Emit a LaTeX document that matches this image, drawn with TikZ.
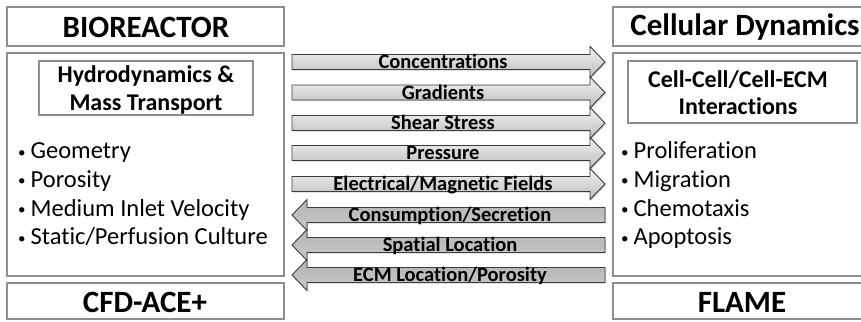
\documentclass[tikz,border=0pt]{standalone}
\usepackage{fontspec}
\setmainfont{Carlito}[Ligatures={NoCommon,NoRare}]
\usetikzlibrary{shadows}
\definecolor{boxgray}{HTML}{8E8E8E}
\definecolor{arrline}{HTML}{3C3C3C}
\definecolor{rtop}{HTML}{F2F2F2}
\definecolor{rbot}{HTML}{BDBDBD}
\definecolor{ltop}{HTML}{B4B4B4}
\definecolor{lbot}{HTML}{C8C8C8}
\newcommand{\smallbul}{\raisebox{1.5pt}{\fontsize{15}{15}\selectfont\textbullet}\kern5pt}
\tikzset{
  outerbox/.style={draw=boxgray, line width=2pt, fill=white},
  innerbox/.style={draw=boxgray, line width=2pt, fill=white},
  titletext/.style={font=\fontsize{31}{36}\selectfont\bfseries, inner sep=0pt},
  subtext/.style={font=\fontsize{24}{28}\selectfont\bfseries, inner sep=0pt, anchor=base},
  bullettext/.style={font=\fontsize{24.5}{28}\selectfont, inner sep=0pt, anchor=base west},
  rarrow/.style={draw=arrline, line width=0.9pt, top color=rtop, bottom color=rbot, line join=miter,
     drop shadow={shadow xshift=1.2pt, shadow yshift=-1.2pt, opacity=0.35}},
  larrow/.style={draw=arrline, line width=0.9pt, top color=ltop, bottom color=lbot, line join=miter,
     drop shadow={shadow xshift=1.2pt, shadow yshift=-1.2pt, opacity=0.35}},
  arrtext/.style={font=\fontsize{20.5}{24}\selectfont\bfseries, inner sep=0pt, anchor=base}
}
\newcommand{\rarr}[3]{% name, center y, label
  \draw[rarrow] (292,#2-7.5) -- (590,#2-7.5) -- (590,#2-15.5) -- (605,#2) -- (590,#2+15.5) -- (590,#2+7.5) -- (292,#2+7.5) -- cycle;
  \node[arrtext] (#1) at (443,#2+6.5) {#3};
}
\newcommand{\larr}[3]{%
  \draw[larrow] (605,#2-7.5) -- (307,#2-7.5) -- (307,#2-15.5) -- (292,#2) -- (307,#2+15.5) -- (307,#2+7.5) -- (605,#2+7.5) -- cycle;
  \node[arrtext] (#1) at (450,#2+6.5) {#3};
}
\begin{document}
\begin{tikzpicture}[x=1pt,y=-1pt]
\useasboundingbox (0,0) rectangle (861,321);
\clip (0,0) rectangle (861,321);
\fill[white] (0,0) rectangle (861,321);
% left column
\draw[outerbox] (7,7) rectangle (284,46);
\node[titletext] (bio) at (146,27) {BIOREACTOR};
\draw[outerbox] (7,53) rectangle (284,276);
\draw[innerbox] (39,61) rectangle (253,115);
\node[subtext] (hyd1) at (146,82) {Hydrodynamics \&};
\node[subtext] (hyd2) at (146,110) {Mass Transport};
\foreach \t [count=\i] in {Geometry,Porosity,Medium Inlet Velocity,Static/Perfusion Culture}{
  \node[bullettext] (lb\i) at (18,{130+28.7*\i}) {\smallbul\t};
}
\draw[outerbox] (7,283) rectangle (284,319);
\node[titletext] (cfd) at (145,302) {CFD-ACE+};
% right column
\draw[outerbox] (613,7) rectangle (870,46);
\node[titletext] (cd) at (745,27) {Cellular Dynamics};
\draw[outerbox] (613,53) rectangle (870,276);
\draw[innerbox] (628,61) rectangle (857,123);
\node[subtext] (cc1) at (738,87) {Cell-Cell/Cell-ECM};
\node[subtext] (cc2) at (738,114) {Interactions};
\foreach \t [count=\i] in {Proliferation,Migration,Chemotaxis,Apoptosis}{
  \node[bullettext] (rb\i) at (621,{130+28.7*\i}) {\smallbul\t};
}
\draw[outerbox] (613,283) rectangle (870,319);
\node[titletext] (fl) at (742,302) {FLAME};
% arrows
\rarr{a1}{62}{Concentrations}
\rarr{a2}{92.5}{Gradients}
\rarr{a3}{123}{Shear Stress}
\rarr{a4}{153}{Pressure}
\rarr{a5}{184}{Electrical/Magnetic Fields}
\larr{b1}{215}{Consumption/Secretion}
\larr{b2}{245}{Spatial Location}
\larr{b3}{275}{ECM Location/Porosity}
\end{tikzpicture}
\end{document}
